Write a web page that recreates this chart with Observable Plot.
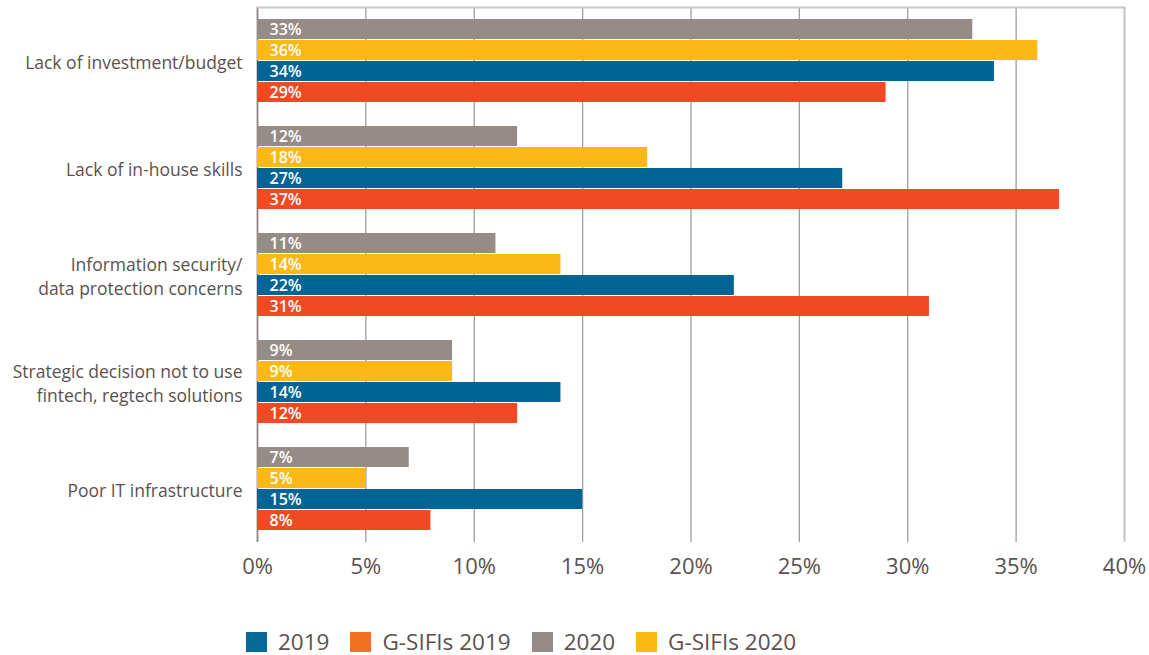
<!DOCTYPE html>
<html>
<head>
<meta charset="utf-8">
<script src="https://cdn.jsdelivr.net/npm/d3@7"></script>
<script src="https://cdn.jsdelivr.net/npm/@observablehq/plot@0.6"></script>
<style>
  html, body { margin: 0; padding: 0; background: #fff; }
  body { width: 1149px; height: 655px; overflow: hidden; font-family: "Open Sans", sans-serif; }
  #legend { display: flex; align-items: center; padding-left: 246px; margin-top: 30px; font-size: 22.5px; line-height: 24px; color: #5b514e; }
  #legend .item { display: flex; align-items: center; margin-right: 21px; }
  #legend .sw { width: 21px; height: 20px; margin-right: 11px; }
</style>
</head>
<body>
<div id="chart"></div>
<div id="legend"></div>
<script>
const categories = [
  "Lack of investment/budget",
  "Lack of in-house skills",
  "Information security/\ndata protection concerns",
  "Strategic decision not to use\nfintech, regtech solutions",
  "Poor IT infrastructure"
];
const series = ["2020", "G-SIFIs 2020", "2019", "G-SIFIs 2019"];
const values2020 = [33, 12, 11, 9, 7];
const valuesGSIFIs2020 = [36, 18, 14, 9, 5];
const values2019 = [34, 27, 22, 14, 15];
const valuesGSIFIs2019 = [29, 37, 31, 12, 8];
const xTicks = [0, 5, 10, 15, 20, 25, 30, 35, 40];
const legendOrder = ["2019", "G-SIFIs 2019", "2020", "G-SIFIs 2020"];

const barColors = {"2020": "#958b87", "G-SIFIs 2020": "#fbb817", "2019": "#006595", "G-SIFIs 2019": "#ef4a24"};
const legendColors = {"2019": "#046898", "G-SIFIs 2019": "#f37021", "2020": "#958c88", "G-SIFIs 2020": "#fdb913"};

const seriesValues = [values2020, valuesGSIFIs2020, values2019, valuesGSIFIs2019];
const table = [];
categories.forEach((c, i) => series.forEach((s, j) => table.push({cat: c, series: s, value: seriesValues[j][i]})));

const chart = Plot.plot({
  width: 1149,
  height: 600,
  marginLeft: 257,
  marginRight: 25,
  marginTop: 6,
  marginBottom: 57,
  style: {fontFamily: "Open Sans, sans-serif", background: "#fff"},
  x: {domain: [0, 40]},
  y: {domain: series, paddingInner: 0.06, paddingOuter: 0.55, axis: null},
  fy: {domain: categories, padding: 0, axis: null},
  color: {domain: series, range: series.map(s => barColors[s])},
  marks: [
    Plot.gridX(xTicks, {stroke: "#a39b98", strokeOpacity: 1, strokeWidth: 1.3}),
    Plot.ruleX([40], {stroke: "#cdc7c4", strokeWidth: 2}),
    Plot.ruleX([0], {stroke: "#8a827f", strokeWidth: 1.6}),
    Plot.frame({anchor: "top", facet: "super", stroke: "#cbc5c2", strokeWidth: 2}),
    Plot.barX(table, {fy: "cat", y: "series", x: "value", fill: "series"}),
    Plot.text(table, {fy: "cat", y: "series", x: 0, text: d => d.value + "%", textAnchor: "start", dx: 12, fill: "white", fontSize: 16, fontWeight: 600}),
    Plot.axisX({ticks: xTicks, tickFormat: d => d + "%", tickSize: 0, tickPadding: 16, fontSize: 22, fill: "#5b514e", label: null}),
    Plot.axisFy({anchor: "left", tickSize: 0, tickPadding: 15, fontSize: 17.5, fill: "#5b514e", lineHeight: 1.37, label: null})
  ]
});
document.getElementById("chart").appendChild(chart);

const legend = document.getElementById("legend");
legendOrder.forEach(s => {
  const item = document.createElement("div");
  item.className = "item";
  const sw = document.createElement("div");
  sw.className = "sw";
  sw.style.background = legendColors[s];
  const label = document.createElement("span");
  label.textContent = s;
  item.appendChild(sw);
  item.appendChild(label);
  legend.appendChild(item);
});
</script>
</body>
</html>
